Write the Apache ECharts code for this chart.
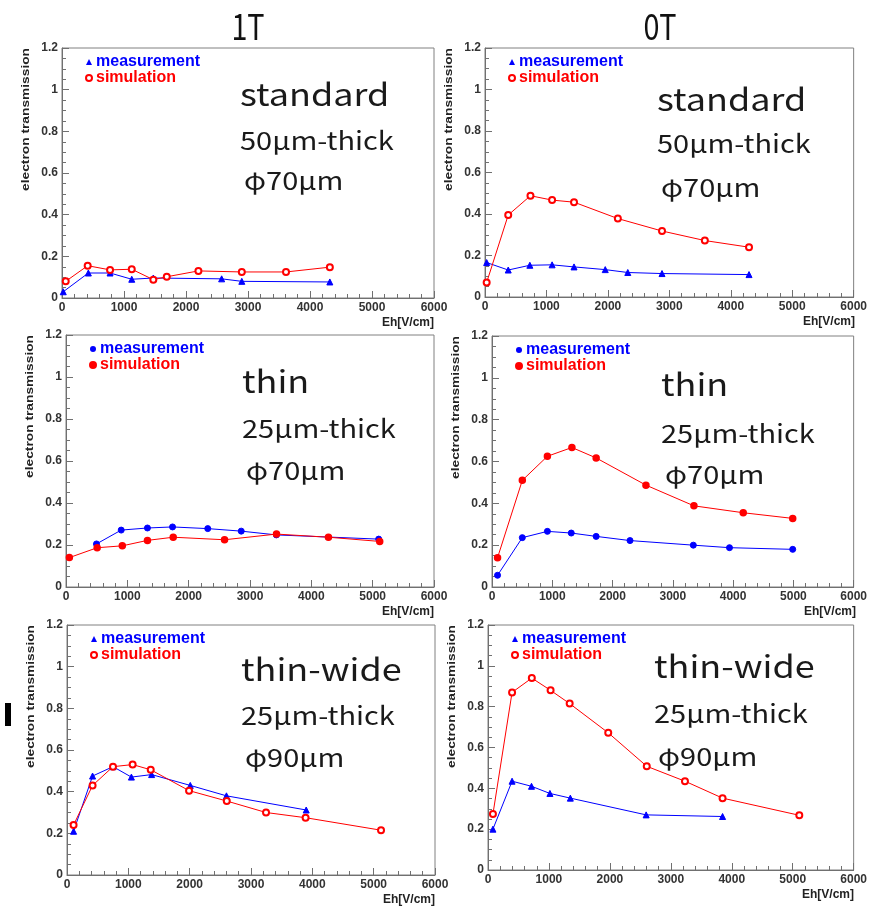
<!DOCTYPE html>
<html>
<head>
<meta charset="utf-8">
<script src="https://cdn.jsdelivr.net/npm/echarts@6/dist/echarts.min.js"></script>
<style>html,body{margin:0;padding:0;background:#fff}#c{width:870px;height:908px}</style>
</head>
<body>
<div id="c"></div>
<script>
// ---- data ----
const columnTitles = ['1T', '0T'];
const xTicks = [0, 1000, 2000, 3000, 4000, 5000, 6000];
const yTicks = [0, 0.2, 0.4, 0.6, 0.8, 1, 1.2];

// 1T standard
const m1x = [20, 425, 775, 1125, 1473, 2575, 2900, 4320];
const m1y = [0.03, 0.12, 0.12, 0.09, 0.096, 0.092, 0.08, 0.077];
const s1x = [60, 414, 775, 1125, 1473, 1690, 2200, 2900, 3613, 4320];
const s1y = [0.08, 0.155, 0.135, 0.138, 0.088, 0.102, 0.13, 0.125, 0.125, 0.148];
// 0T standard
const m2x = [27, 378, 730, 1092, 1449, 1957, 2324, 2881, 4297];
const m2y = [0.166, 0.13, 0.153, 0.155, 0.145, 0.132, 0.118, 0.113, 0.108];
const s2x = [27, 378, 740, 1092, 1449, 2162, 2881, 3578, 4297];
const s2y = [0.07, 0.395, 0.488, 0.467, 0.457, 0.378, 0.318, 0.272, 0.24];
// 1T thin
const m3x = [497, 900, 1328, 1737, 2311, 2857, 3430, 5098];
const m3y = [0.205, 0.271, 0.281, 0.286, 0.278, 0.266, 0.248, 0.228];
const s3x = [55, 508, 918, 1328, 1748, 2585, 3432, 4279, 5115];
const s3y = [0.14, 0.187, 0.196, 0.222, 0.237, 0.225, 0.252, 0.237, 0.217];
// 0T thin
const m4x = [92, 503, 919, 1315, 1728, 2290, 3340, 3940, 4989];
const m4y = [0.056, 0.236, 0.266, 0.258, 0.242, 0.222, 0.2, 0.188, 0.18];
const s4x = [92, 503, 919, 1326, 1728, 2554, 3350, 4168, 4989];
const s4y = [0.14, 0.51, 0.625, 0.667, 0.617, 0.487, 0.388, 0.355, 0.328];
// 1T thin-wide
const m5x = [107, 417, 750, 1050, 1380, 2010, 2600, 3900];
const m5y = [0.21, 0.475, 0.52, 0.47, 0.482, 0.43, 0.38, 0.312];
const s5x = [107, 417, 750, 1070, 1365, 1990, 2605, 3245, 3890, 5120];
const s5y = [0.24, 0.43, 0.52, 0.53, 0.505, 0.405, 0.355, 0.3, 0.275, 0.215];
// 0T thin-wide
const m6x = [81, 395, 714, 1016, 1351, 2595, 3849];
const m6y = [0.2, 0.435, 0.41, 0.375, 0.352, 0.27, 0.262];
const s6x = [81, 395, 719, 1027, 1340, 1973, 2605, 3232, 3849, 5108];
const s6y = [0.274, 0.87, 0.94, 0.88, 0.815, 0.672, 0.508, 0.435, 0.352, 0.268];

const labels1 = ['standard', '50μm-thick', 'φ70μm'];
const labels2 = ['thin', '25μm-thick', 'φ70μm'];
const labels3 = ['thin-wide', '25μm-thick', 'φ90μm'];
const legendNames = ['measurement', 'simulation'];
const yName = 'electron transmission';
const xName = 'Eh[V/cm]';

// ---- layout ----
const panels = [
  {g:{left:62, top:48, width:372, height:250}, m:[m1x,m1y], s:[s1x,s1y], sym:['triangle','emptyCircle'], txt:labels1, tx:240, ty:[94,140,180]},
  {g:{left:485, top:48, width:370, height:249}, m:[m2x,m2y], s:[s2x,s2y], sym:['triangle','emptyCircle'], txt:labels1, tx:657, ty:[99,143,187]},
  {g:{left:66, top:335, width:368, height:252}, m:[m3x,m3y], s:[s3x,s3y], sym:['circle','circle'], txt:labels2, tx:242, ty:[381,428,470]},
  {g:{left:492, top:336, width:364, height:251}, m:[m4x,m4y], s:[s4x,s4y], sym:['circle','circle'], txt:labels2, tx:661, ty:[384,433,474]},
  {g:{left:67, top:625, width:368, height:250}, m:[m5x,m5y], s:[s5x,s5y], sym:['triangle','emptyCircle'], txt:labels3, tx:241, ty:[669,715,757]},
  {g:{left:488, top:625, width:366, height:245}, m:[m6x,m6y], s:[s6x,s6y], sym:['triangle','emptyCircle'], txt:labels3, tx:654, ty:[666,713,756]}
];

const BLUE = '#0000ff', RED = '#ff0000';
const grid = [], xAxis = [], yAxis = [], series = [], legend = [], graphic = [];
const zip = (xs, ys) => xs.map((x, i) => [x, ys[i]]);
const labelStyle = {margin:4, color:'#333', fontSize:12, fontWeight:'bold', fontFamily:'Liberation Sans', showMinLabel:true, showMaxLabel:true, hideOverlap:false};

panels.forEach((p, i) => {
  grid.push(Object.assign({show:true, borderColor:'#808080', borderWidth:1, containLabel:false}, p.g));
  xAxis.push({
    type:'value', gridIndex:i, min:xTicks[0], max:xTicks[xTicks.length-1], interval:1000,
    axisLine:{show:true, lineStyle:{color:'#707070', width:1}},
    axisTick:{show:true, inside:true, length:7, lineStyle:{color:'#707070'}},
    minorTick:{show:true, splitNumber:5, length:4, lineStyle:{color:'#707070'}},
    splitLine:{show:false},
    axisLabel:Object.assign({formatter:v => String(v)}, labelStyle)
  });
  yAxis.push({
    type:'value', gridIndex:i, min:yTicks[0], max:yTicks[yTicks.length-1], interval:0.2,
    axisLine:{show:true, lineStyle:{color:'#707070', width:1}},
    axisTick:{show:true, inside:true, length:7, lineStyle:{color:'#707070'}},
    minorTick:{show:true, splitNumber:4, length:4, lineStyle:{color:'#707070'}},
    splitLine:{show:false},
    axisLabel:Object.assign({formatter:v => String(+v.toFixed(1))}, labelStyle)
  });
  series.push({
    name:legendNames[0], type:'line', xAxisIndex:i, yAxisIndex:i, data:zip(p.m[0], p.m[1]),
    symbol:p.sym[0], symbolSize:6, showAllSymbol:true, animation:false,
    lineStyle:{color:BLUE, width:1}, itemStyle:{color:BLUE, borderColor:BLUE}
  });
  series.push({
    name:legendNames[1], type:'line', xAxisIndex:i, yAxisIndex:i, data:zip(p.s[0], p.s[1]),
    symbol:p.sym[1], symbolSize:6, showAllSymbol:true, animation:false,
    lineStyle:{color:RED, width:1}, itemStyle:{color:RED, borderColor:RED, borderWidth:1.5}
  });
  legend.push({
    left:p.g.left + 23, top:p.g.top + 6, orient:'vertical', padding:0, itemGap:0,
    itemWidth:6, itemHeight:6, selectedMode:false,
    textStyle:{fontSize:16, fontWeight:'bold', fontFamily:'Liberation Sans', lineHeight:14, padding:[0,0,0,-1]},
    data:[
      {name:legendNames[0], icon:p.sym[0], textStyle:{color:BLUE}},
      {name:legendNames[1], icon:p.sym[1], textStyle:{color:RED}}
    ]
  });
  // big annotation text
  const sizes = [31, 25, 25];
  p.txt.forEach((t, k) => {
    graphic.push({type:'text', x:p.tx + (k === 2 ? 4 : 0), y:p.ty[k], scaleX:1.16,
      style:{text:t, fill:'#1a1a1a', font:'400 ' + sizes[k] + 'px "Noto Sans CJK JP"', textAlign:'left', textVerticalAlign:'middle'}});
  });
  // y axis title
  graphic.push({type:'text', x:p.g.left - 36, y:p.g.top, rotation:Math.PI/2, scaleX:1.25,
    style:{text:yName, fill:'#222', font:'bold 11px "Liberation Sans"', textAlign:'right', textVerticalAlign:'middle'}});
  // x axis title
  graphic.push({type:'text', x:p.g.left + p.g.width, y:p.g.top + p.g.height + 25,
    style:{text:xName, fill:'#222', font:'bold 12px "Liberation Sans"', textAlign:'right', textVerticalAlign:'middle'}});
});

// column titles
graphic.push({type:'text', x:248, y:26, scaleX:0.8, style:{text:columnTitles[0], fill:'#111', font:'400 36px "Noto Sans CJK JP"', textAlign:'center', textVerticalAlign:'middle'}});
graphic.push({type:'text', x:660, y:26, scaleX:0.8, style:{text:columnTitles[1], fill:'#111', font:'400 36px "Noto Sans CJK JP"', textAlign:'center', textVerticalAlign:'middle'}});
// small dark mark at left edge
graphic.push({type:'rect', shape:{x:5, y:703, width:6, height:23}, style:{fill:'#000'}});

const chart = echarts.init(document.getElementById('c'), null, {renderer:'canvas'});
chart.setOption({backgroundColor:'#fff', animation:false, grid, xAxis, yAxis, series, legend, graphic});
</script>
</body>
</html>
